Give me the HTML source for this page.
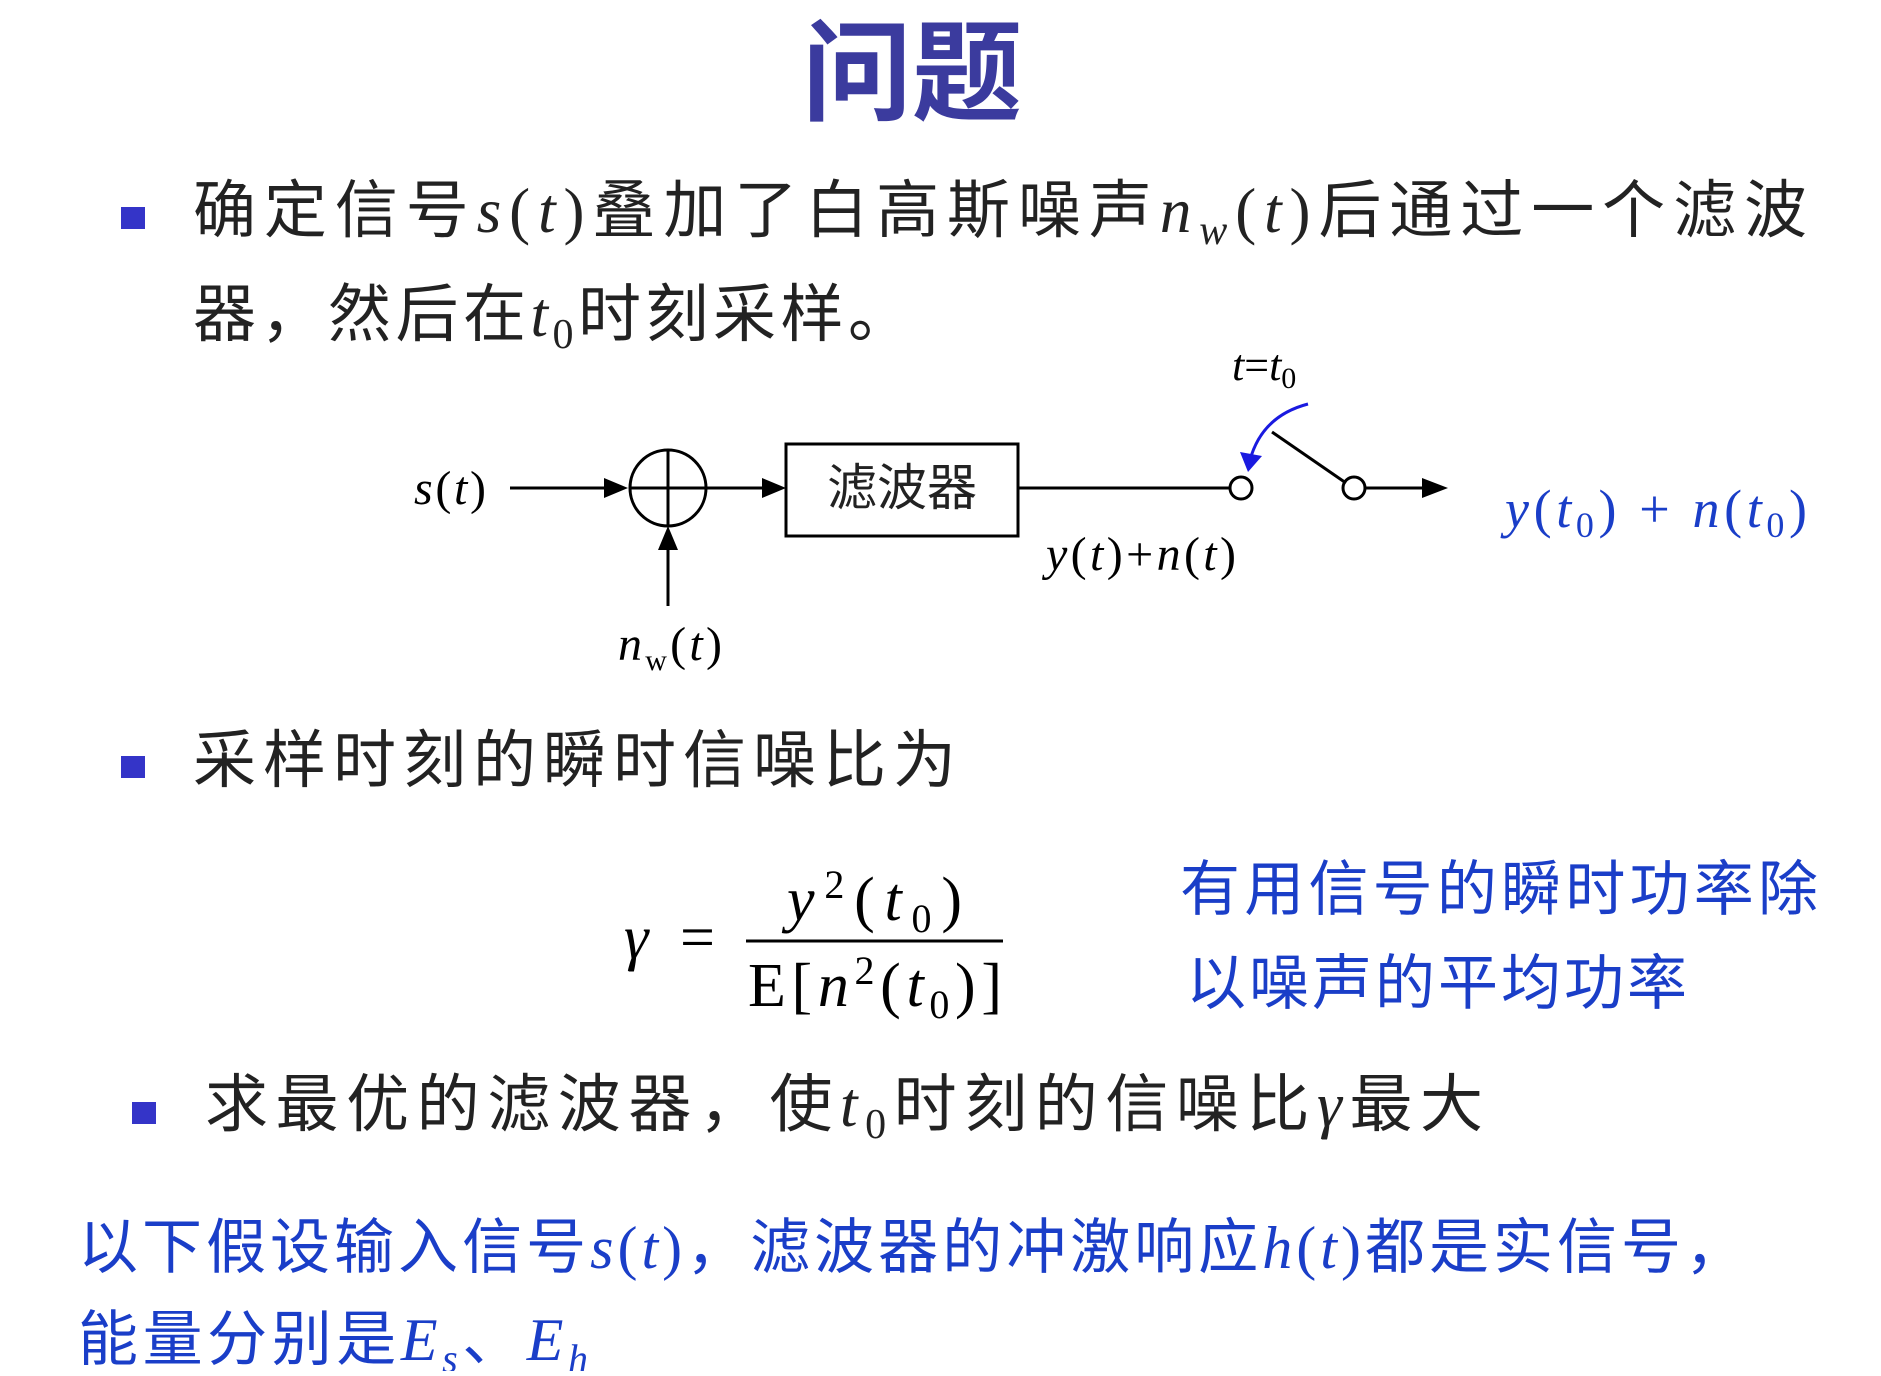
<!DOCTYPE html>
<html><head><meta charset="utf-8"><style>
html,body{margin:0;padding:0;background:#fff;}
svg text{font-family:"Liberation Sans","Noto Sans CJK SC",sans-serif;}
.m{font-family:"Liberation Serif","Noto Serif CJK SC",serif;font-style:italic;}
.r{font-family:"Liberation Serif","Noto Serif CJK SC",serif;}
</style></head><body>
<svg width="1881" height="1371" viewBox="0 0 1881 1371" xmlns="http://www.w3.org/2000/svg">
<text x="912" y="112" text-anchor="middle" font-size="110" font-weight="bold" fill="#3b3b9e" style='font-family:"Noto Sans CJK SC",sans-serif'>问题</text>

<rect x="121" y="207" width="24" height="22" fill="#3434c8"/>
<text x="193" y="232" font-size="63" fill="#222" textLength="1614" lengthAdjust="spacing">确定信号<tspan class="m">s</tspan><tspan class="r">(</tspan><tspan class="m">t</tspan><tspan class="r">)</tspan>叠加了白高斯噪声<tspan class="m">n</tspan><tspan class="m" font-size="42" dy="12">w</tspan><tspan class="r" dy="-12">(</tspan><tspan class="m">t</tspan><tspan class="r">)</tspan>后通过一个滤波</text>
<text x="193" y="336" font-size="63" fill="#222" textLength="718" lengthAdjust="spacing">器，然后在<tspan class="m">t</tspan><tspan class="r" font-size="42" dy="12">0</tspan><tspan dy="-12">时刻采样。</tspan></text>

<g stroke="#000" stroke-width="3" fill="none">
<line x1="510" y1="488" x2="620" y2="488"/>
<path d="M604,478 L628,488 L604,498 z" fill="#000" stroke="none"/>
<circle cx="668" cy="488" r="38"/>
<line x1="630" y1="488" x2="706" y2="488"/>
<line x1="668" y1="450" x2="668" y2="526"/>
<line x1="706" y1="488" x2="776" y2="488"/>
<path d="M762,478 L786,488 L762,498 z" fill="#000" stroke="none"/>
<line x1="668" y1="606" x2="668" y2="536"/>
<path d="M658,550 L668,526 L678,550 z" fill="#000" stroke="none"/>
<rect x="786" y="444" width="232" height="92"/>
<line x1="1018" y1="488" x2="1230" y2="488"/>
<circle cx="1241" cy="488" r="11"/>
<line x1="1272" y1="432" x2="1346" y2="483"/>
<circle cx="1354" cy="488" r="11"/>
<line x1="1365" y1="488" x2="1436" y2="488"/>
<path d="M1422,478 L1448,488 L1422,498 z" fill="#000" stroke="none"/>
</g>
<path d="M1308,404 Q1262,416 1250,460" stroke="#1a1ae0" stroke-width="3" fill="none"/>
<path d="M1240,452 L1248,472 L1262,456 z" fill="#1a1ae0"/>
<text x="414" y="504" font-size="48" class="r" textLength="72" lengthAdjust="spacing"><tspan class="m">s</tspan>(<tspan class="m">t</tspan>)</text>
<text x="902" y="505" font-size="50" text-anchor="middle" fill="#222">滤波器</text>
<text x="1232" y="380" font-size="44" class="r"><tspan class="m">t</tspan>=<tspan class="m">t</tspan><tspan font-size="30" dy="8">0</tspan></text>
<text x="1046" y="570" font-size="48" class="r" textLength="190" lengthAdjust="spacing"><tspan class="m">y</tspan>(<tspan class="m">t</tspan>)+<tspan class="m">n</tspan>(<tspan class="m">t</tspan>)</text>
<text x="618" y="660" font-size="48" class="r" textLength="104" lengthAdjust="spacing"><tspan class="m">n</tspan><tspan font-size="30" dy="10">w</tspan><tspan dy="-10">(</tspan><tspan class="m">t</tspan>)</text>
<text x="1505" y="527" font-size="54" fill="#1a3ec8" class="r" textLength="302" lengthAdjust="spacing"><tspan class="m">y</tspan>(<tspan class="m">t</tspan><tspan font-size="36" dy="10">0</tspan><tspan dy="-10">) + </tspan><tspan class="m">n</tspan>(<tspan class="m">t</tspan><tspan font-size="36" dy="10">0</tspan><tspan dy="-10">)</tspan></text>

<rect x="121" y="756" width="24" height="22" fill="#3434c8"/>
<text x="193" y="782" font-size="63" fill="#222" textLength="763" lengthAdjust="spacing">采样时刻的瞬时信噪比为</text>

<text x="624" y="958" font-size="62" class="m">γ</text>
<text x="680" y="958" font-size="62" class="r">=</text>
<line x1="746" y1="941" x2="1003" y2="941" stroke="#000" stroke-width="3"/>
<text x="787" y="920" font-size="62" class="r" textLength="175" lengthAdjust="spacing"><tspan class="m">y</tspan><tspan font-size="40" dy="-22">2</tspan><tspan dy="22">(</tspan><tspan class="m">t</tspan><tspan font-size="40" dy="12">0</tspan><tspan dy="-12">)</tspan></text>
<text x="748" y="1006" font-size="62" class="r" textLength="254" lengthAdjust="spacing">E[<tspan class="m">n</tspan><tspan font-size="40" dy="-22">2</tspan><tspan dy="22">(</tspan><tspan class="m">t</tspan><tspan font-size="40" dy="12">0</tspan><tspan dy="-12">)]</tspan></text>
<text x="1180" y="910" font-size="60" fill="#1a3ec8" textLength="638" lengthAdjust="spacing">有用信号的瞬时功率除</text>
<text x="1186" y="1004" font-size="60" fill="#1a3ec8" textLength="501" lengthAdjust="spacing">以噪声的平均功率</text>

<rect x="132" y="1102" width="24" height="22" fill="#3434c8"/>
<text x="205" y="1126" font-size="63" fill="#222" textLength="1278" lengthAdjust="spacing">求最优的滤波器，使<tspan class="m">t</tspan><tspan class="r" font-size="42" dy="12">0</tspan><tspan dy="-12">时刻的信噪比</tspan><tspan class="m">γ</tspan>最大</text>

<text x="78" y="1268" font-size="60" fill="#1a3ec8" textLength="1667" lengthAdjust="spacing">以下假设输入信号<tspan class="m">s</tspan><tspan class="r">(</tspan><tspan class="m">t</tspan><tspan class="r">)</tspan>，滤波器的冲激响应<tspan class="m">h</tspan><tspan class="r">(</tspan><tspan class="m">t</tspan><tspan class="r">)</tspan>都是实信号，</text>
<text x="78" y="1360" font-size="60" fill="#1a3ec8" textLength="510" lengthAdjust="spacing">能量分别是<tspan class="m">E</tspan><tspan class="m" font-size="40" dy="12">s</tspan><tspan dy="-12">、</tspan><tspan class="m">E</tspan><tspan class="m" font-size="40" dy="12">h</tspan></text>
</svg>
</body></html>
